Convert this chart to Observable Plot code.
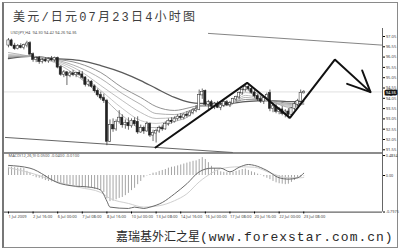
<!DOCTYPE html>
<html>
<head>
<meta charset="utf-8">
<script src="https://cdn.jsdelivr.net/npm/d3@7"></script>
<script src="https://cdn.jsdelivr.net/npm/@observablehq/plot@0.6"></script>
<style>
  html, body { margin: 0; padding: 0; background: #fff; }
  #wrap { position: relative; width: 400px; height: 252px; overflow: hidden; font-family: "Liberation Sans", Arial, sans-serif; }
  #border { position: absolute; left: 2px; top: 2px; width: 393px; height: 244px; border: 1px solid #8a8a8a; border-left: 2px solid #777; }
  #title { position: absolute; left: 13px; top: 12px; font-size: 12px; line-height: 13px; color: #3d3d3d; white-space: nowrap; letter-spacing: 2.2px; font-family: "Liberation Mono", "Noto Sans CJK SC", serif; }
  #main, #macd { position: absolute; left: 0; }
  #main { top: 28px; }
  #macd { top: 152px; }
  #footer { position: absolute; left: 116px; top: 227px; white-space: nowrap; color: #2a2a2a; line-height: 14px; }
  #footer .cn { font: 12px "Noto Sans CJK SC", sans-serif; }
  #footer .en { font: 13px "Liberation Mono", monospace; letter-spacing: 1px; }
  svg { overflow: visible; }
</style>
</head>
<body>
<div id="wrap">
  <div id="border"></div>
  <div id="title">美元/日元07月23日4小时图</div>
  <div id="main"></div>
  <div id="macd"></div>
  <div id="footer"><span class="cn">嘉瑞基外汇之星</span><span class="en">(www.forexstar.com.cn)</span></div>
</div>
<script>
// USD/JPY 4-hour bars, 1 Jul 2009 08:00 to 23 Jul 2009 08:00
const open = [
  96.62,96.85,96.60,96.45,96.58,96.50,96.62,96.72,96.18,95.92,
  96.00,95.82,95.90,95.85,95.95,95.90,96.00,95.55,95.20,95.30,
  95.15,95.25,95.18,95.28,95.20,95.05,94.70,94.85,94.62,94.40,
  94.20,94.05,93.92,91.95,92.75,92.55,92.90,93.10,92.75,92.85,
  92.70,92.95,92.90,92.40,92.60,92.45,92.80,92.25,92.35,92.45,
  92.60,92.55,92.80,92.95,92.90,93.05,93.15,93.10,93.25,93.20,
  93.35,93.45,93.50,94.20,94.40,93.75,93.85,93.65,93.78,93.60,
  93.70,93.85,93.72,93.80,94.00,94.10,94.30,94.45,94.60,94.50,
  94.32,94.15,94.00,93.90,94.05,94.30,93.55,93.65,93.40,93.50,
  93.30,93.40,93.25,93.55,93.75,93.90,94.30];
const high = [
  96.95,96.92,96.72,96.66,96.70,96.68,96.82,96.80,96.25,96.05,
  96.08,95.98,96.02,96.00,96.08,96.05,96.05,95.62,95.40,95.35,
  95.35,95.40,95.30,95.38,95.35,95.10,94.95,94.90,94.70,94.50,
  94.35,94.25,94.00,93.00,93.05,93.00,93.45,93.25,93.00,93.10,
  93.05,93.10,93.15,92.75,92.70,92.90,92.85,92.50,92.55,92.70,
  92.75,92.90,93.05,93.10,93.15,93.25,93.30,93.30,93.40,93.45,
  93.55,93.70,94.45,94.50,94.45,93.95,93.95,93.85,93.90,93.80,
  93.95,93.95,93.90,94.05,94.15,94.35,94.55,94.75,94.72,94.60,
  94.45,94.25,94.15,94.10,94.30,94.45,93.80,93.75,93.60,93.65,
  93.50,93.55,93.60,93.85,94.00,94.45,94.42];
const low = [
  96.50,96.55,96.38,96.40,96.45,96.40,96.50,96.10,95.80,95.78,
  95.70,95.72,95.78,95.75,95.85,95.80,95.48,95.12,95.05,94.67,
  95.05,95.10,95.05,95.12,94.95,94.60,94.60,94.55,94.30,94.10,
  93.95,93.80,91.75,91.90,92.40,92.45,92.80,92.60,92.55,92.50,
  92.60,92.70,92.30,92.35,92.30,92.40,92.15,91.95,91.88,92.35,
  92.45,92.50,92.70,92.80,92.85,92.95,93.00,93.00,93.10,93.15,
  93.25,93.35,93.45,94.00,93.65,93.50,93.55,93.50,93.55,93.45,
  93.60,93.65,93.60,93.75,93.90,94.00,94.20,94.35,94.40,94.25,
  94.05,93.90,93.80,93.75,93.95,93.40,93.35,93.30,93.25,93.20,
  93.10,93.05,93.15,93.45,93.65,93.85,94.26];
const close = [
  96.85,96.60,96.45,96.58,96.50,96.62,96.70,96.18,95.92,96.00,
  95.82,95.90,95.85,95.95,95.90,96.00,95.55,95.20,95.30,95.15,
  95.25,95.18,95.28,95.20,95.05,94.70,94.85,94.62,94.40,94.20,
  94.05,93.92,91.95,92.75,92.55,92.90,93.10,92.75,92.85,92.70,
  92.95,92.80,92.40,92.60,92.45,92.80,92.25,92.35,92.45,92.60,
  92.55,92.80,92.95,92.90,93.05,93.15,93.10,93.25,93.20,93.35,
  93.45,93.50,94.20,94.35,93.75,93.85,93.65,93.78,93.60,93.70,
  93.85,93.72,93.80,94.00,94.10,94.30,94.45,94.60,94.50,94.32,
  94.15,94.00,93.90,94.05,94.20,93.55,93.65,93.40,93.50,93.30,
  93.40,93.25,93.55,93.75,93.90,94.30,94.36];

// Moving-average ribbon, read at selected bars (slowest first)
const maBars = [0, 7, 15, 23, 30, 37, 43, 48, 54, 59, 62, 72, 77, 85, 92, 96];
const ma1 = [95.98,96.09,95.98,95.89,95.64,95.30,94.91,94.53,94.09,93.85,93.80,93.80,93.89,93.94,93.89,93.89];
const ma2 = [96.03,96.09,95.96,95.74,95.30,94.57,94.09,93.65,93.46,93.60,93.70,93.80,93.99,93.94,93.80,93.80];
const ma3 = [96.08,96.09,95.93,95.55,95.01,94.28,93.75,93.31,93.26,93.46,93.65,93.75,94.09,93.89,93.75,93.75];
const ma4 = [96.13,96.09,95.89,95.40,94.67,93.94,93.36,93.07,93.12,93.36,93.65,93.75,94.19,93.89,93.70,93.75];
const ma5 = [96.18,96.09,95.84,95.25,94.43,93.56,92.97,92.83,93.02,93.31,93.65,93.70,94.33,93.89,93.65,93.80];
const ma6 = [96.27,96.09,95.79,95.06,94.19,93.22,92.63,92.63,92.92,93.22,93.70,93.75,94.48,93.94,93.60,93.85];

// MACD(12,26,9): histogram per bar, main and signal lines read at selected bars
const macdHist = [
  0.18,0.18,0.17,0.16,0.16,0.15,0.09,0.05,-0.02,-0.05,
  -0.06,-0.08,-0.11,-0.13,-0.14,-0.15,-0.17,-0.18,-0.19,-0.20,
  -0.21,-0.22,-0.23,-0.24,-0.25,-0.27,-0.27,-0.28,-0.30,-0.31,
  -0.33,-0.37,-0.51,-0.57,-0.56,-0.53,-0.50,-0.48,-0.44,-0.39,
  -0.33,-0.28,-0.20,-0.13,-0.05,-0.01,0.02,0.05,0.06,0.09,
  0.11,0.13,0.16,0.18,0.19,0.21,0.23,0.25,0.27,0.29,
  0.31,0.32,0.35,0.39,0.35,0.28,0.20,0.15,0.11,0.08,
  0.07,0.06,0.06,0.07,0.09,0.11,0.13,0.14,0.11,0.08,
  0.06,0.03,0.01,-0.03,-0.06,-0.09,-0.13,-0.16,-0.18,-0.19,
  -0.20,-0.19,-0.15,-0.11,-0.07,-0.04,-0.01];
const mainBars = [0,7,17,20,27,30,32,33,39,41,44,46,50,54,58,62,66,69,72,75,78,80,84,88,91,94,96];
const macdMain = [0.22,0.16,-0.18,-0.22,-0.26,-0.32,-0.56,-0.69,-0.72,-0.69,-0.72,-0.69,-0.59,-0.40,-0.18,0.08,0.16,0.16,0.08,0.18,0.24,0.22,0.11,-0.05,-0.08,-0.05,0.05];
const signalBars = [0,7,17,23,30,33,39,44,49,54,58,62,66,69,75,80,85,91,95,96];
const macdSignal = [0.17,0.06,-0.16,-0.26,-0.37,-0.50,-0.61,-0.69,-0.66,-0.55,-0.40,-0.14,0.05,0.15,0.19,0.18,0.06,-0.05,-0.05,-0.04];

// Axis labels
const priceTicks = [97.05,96.55,96.05,95.55,95.05,94.55,94.05,93.55,93.05,92.55,92.05,91.55];
const dateBars = [0,8,16,24,32,40,48,56,64,72,80,88,96];
const dateLabels = ["1 Jul 2009","2 Jul 16:00","6 Jul 00:00","7 Jul 08:00","8 Jul 16:00","10 Jul 00:00",
  "13 Jul 08:00","14 Jul 16:00","16 Jul 00:00","17 Jul 08:00","20 Jul 16:00","22 Jul 00:00","23 Jul 08:00"];
const macdMax = 0.4834, macdMin = -0.7975;

// Hand-drawn analysis: channel lines and projected zigzag path
const upperLineBars = [65.0, 121.6], upperLinePrices = [97.20, 96.63];
const lowerLineBars = [-1, 72.8],   lowerLinePrices = [92.15, 91.42];
const zigBars = [47.8, 77.6, 91.5, 106.1, 117.7];
const zigPrices = [91.66, 94.80, 93.10, 95.93, 94.35];
const headBars = [115.0, 117.7, 110.1];
const headPrices = [95.40, 94.35, 94.75];

// ---- build tables ----
const bars = open.map((o, i) => ({i, o, h: high[i], l: low[i], c: close[i]}));
const pts = (xs, ys) => xs.map((x, k) => ({x, y: ys[k]}));
const last = bars[bars.length - 1];

const XMAX = 121.6;
const xScale = {domain: [-1, XMAX], range: [4.9, 382]};
const PRICE_LO = 91.40, PRICE_HI = 97.40;
const py = p => 8 + (97.05 - p) * 20.6;       // price -> px inside the main panel
const my = v => 23 - v * 45.8;                // MACD value -> px inside the lower panel

const maStyles = [
  {data: ma1, stroke: "#5a5a5a", w: 1.3},
  {data: ma2, stroke: "#858585", w: 0.9},
  {data: ma3, stroke: "#9c9c9c", w: 0.8},
  {data: ma4, stroke: "#adadad", w: 0.8},
  {data: ma5, stroke: "#b9b9b9", w: 0.8},
  {data: ma6, stroke: "#a2a2a2", w: 0.8}
];
const axisText = {tickSize: 2, tickPadding: 1.2, fontSize: 4.2, fill: "#444"};

const main = Plot.plot({
  width: 400, height: 125,
  marginLeft: 4, marginRight: 18, marginTop: 0, marginBottom: 0,
  x: {...xScale, axis: null},
  y: {domain: [PRICE_LO, PRICE_HI], range: [py(PRICE_LO), py(PRICE_HI)], axis: null},
  style: {background: "transparent", overflow: "visible"},
  marks: [
    Plot.ruleY([last.c], {stroke: "#e0e0e0", strokeWidth: 1}),
    Plot.line(pts(upperLineBars, upperLinePrices), {x: "x", y: "y", stroke: "#777", strokeWidth: 0.9}),
    Plot.line(pts(lowerLineBars, lowerLinePrices), {x: "x", y: "y", stroke: "#555", strokeWidth: 0.9}),
    ...maStyles.map(m => Plot.line(pts(maBars, m.data), {x: "x", y: "y", stroke: m.stroke, strokeWidth: m.w, curve: "monotone-x"})),
    Plot.ruleX(bars, {x: "i", y1: "l", y2: "h", stroke: "#2a2a2a", strokeWidth: 0.7}),
    Plot.rect(bars, {
      x1: d => d.i - 0.36, x2: d => d.i + 0.36,
      y1: d => Math.min(d.o, d.c) - 0.01, y2: d => Math.max(d.o, d.c) + 0.01,
      fill: d => d.c >= d.o ? "#fff" : "#222", stroke: "#222", strokeWidth: 0.5
    }),
    Plot.line(pts(zigBars, zigPrices), {x: "x", y: "y", stroke: "#111", strokeWidth: 2, strokeLinejoin: "miter"}),
    Plot.line(pts(headBars, headPrices), {x: "x", y: "y", stroke: "#111", strokeWidth: 2, strokeLinejoin: "miter"}),
    Plot.ruleY([PRICE_LO], {stroke: "#666", strokeWidth: 1.5}),
    Plot.ruleX([XMAX], {stroke: "#666", strokeWidth: 1}),
    Plot.axisY(priceTicks, {anchor: "right", ...axisText, tickFormat: d => d.toFixed(2)}),
    Plot.text([last.c], {
      y: d => d, frameAnchor: "right", dx: 3.2, dy: 0.6, textAnchor: "start",
      text: d => d.toFixed(2), fontSize: 4, fill: "#fff",
      stroke: "#111", strokeWidth: 3.2, strokeLinejoin: "miter", paintOrder: "stroke"
    }),
    Plot.text([`USDJPY,H4  ${last.o.toFixed(2)} ${last.h.toFixed(2)} ${last.l.toFixed(2)} ${last.c.toFixed(2)}`], {
      frameAnchor: "top-left", dx: 6, dy: 3, fontSize: 4, fill: "#555"
    })
  ]
});
document.getElementById("main").appendChild(main);

const histData = macdHist.map((v, i) => ({i, v}));
const lastMain = macdMain[macdMain.length - 1], lastSig = macdSignal[macdSignal.length - 1];

const macd = Plot.plot({
  width: 400, height: 72,
  marginLeft: 4, marginRight: 18, marginTop: 0, marginBottom: 72 - my(macdMin),
  x: {...xScale, axis: null},
  y: {domain: [macdMin, macdMax], range: [my(macdMin), my(macdMax)], axis: null},
  style: {background: "transparent", overflow: "visible"},
  marks: [
    Plot.ruleX(histData, {x: "i", y1: 0, y2: "v", stroke: "#8e8e8e", strokeWidth: 0.8}),
    Plot.line(pts(signalBars, macdSignal), {x: "x", y: "y", stroke: "#cfcfcf", strokeWidth: 1, curve: "monotone-x"}),
    Plot.line(pts(mainBars, macdMain), {x: "x", y: "y", stroke: "#6a6a6a", strokeWidth: 1, curve: "monotone-x"}),
    Plot.ruleY([macdMin], {stroke: "#666", strokeWidth: 1.2}),
    Plot.ruleX([XMAX], {stroke: "#666", strokeWidth: 1}),
    Plot.axisY([macdMax], {anchor: "right", ...axisText, fontSize: 3.8, dy: 2.2, tickFormat: d => d.toFixed(4)}),
    Plot.axisY([0], {anchor: "right", ...axisText, fontSize: 3.8, tickFormat: d => d.toFixed(2)}),
    Plot.axisY([macdMin], {anchor: "right", ...axisText, fontSize: 3.8, tickFormat: d => d.toFixed(4)}),
    Plot.axisX(dateBars, {
      anchor: "bottom", tickSize: 2, tickPadding: 1, fontSize: 4, fill: "#444", textAnchor: "start",
      tickFormat: d => dateLabels[dateBars.indexOf(d)]
    }),
    Plot.text([`MACD(12,26,9) ${lastMain.toFixed(4)} ${lastSig.toFixed(4)} ${macdHist[macdHist.length - 1].toFixed(4)}`], {
      frameAnchor: "top-left", dx: 4, dy: 2, fontSize: 4, fill: "#555"
    })
  ]
});
document.getElementById("macd").appendChild(macd);
</script>
</body>
</html>
